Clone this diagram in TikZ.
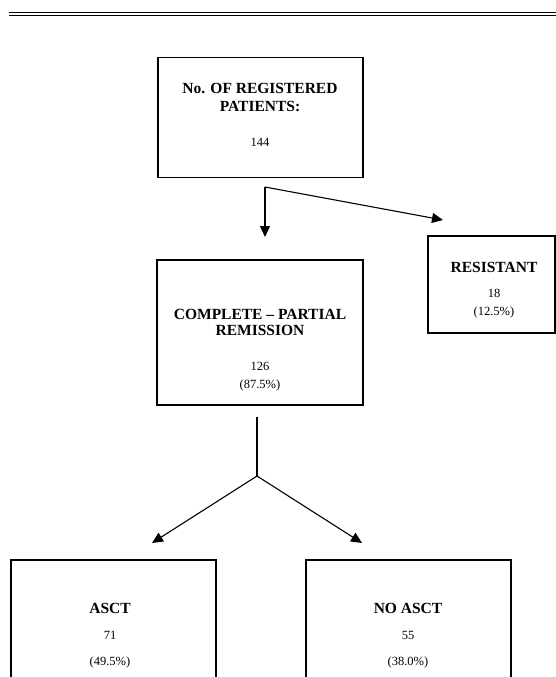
\documentclass[tikz,border=0pt]{standalone}
\usepackage{fontspec}
\setmainfont{Liberation Serif}
\usetikzlibrary{arrows.meta}
\begin{document}
\begin{tikzpicture}[x=1pt,y=-1pt,
  box/.style={draw,line width=1.8pt,rectangle,inner sep=0pt},
  txt/.style={anchor=base,font=\fontsize{12.5}{14}\selectfont,inner sep=0pt},
  btxt/.style={txt,font=\fontsize{15.5}{17}\selectfont\bfseries},
  conn/.style={line width=1.1pt},
  arr/.style={conn,-{Triangle[length=11pt,width=10pt]}}]
\useasboundingbox (0,0) rectangle (556,677);
\clip (0,0) rectangle (556,677);
% double rule
\coordinate (r1) at (9,12.5); \coordinate (r2) at (556,12.5);
\coordinate (r3) at (9,15); \coordinate (r4) at (556,15);
\draw[line width=1.6pt] (r1) -- (r2);
\draw[line width=0.8pt] (r3) -- (r4);
% boxes
\node[box,minimum width=205pt,minimum height=120pt] (top) at (260.5,117.5) {};
\node[box,minimum width=206pt,minimum height=145pt] (mid) at (260,332.5) {};
\node[box,minimum width=127pt,minimum height=97pt] (res) at (491.5,284.5) {};
\node[box,minimum width=205pt,minimum height=160pt] (asct) at (113.5,640) {};
\node[box,minimum width=205pt,minimum height=160pt] (noasct) at (408.5,640) {};
% texts
\node[btxt] (t1) at (260,93) {No. OF REGISTERED};
\node[btxt] (t2) at (260,111) {PATIENTS:};
\node[txt] (t3) at (260,146) {144};
\node[btxt] (m1) at (260,319) {COMPLETE -- PARTIAL};
\node[btxt] (m2) at (260,335) {REMISSION};
\node[txt] (m3) at (260,370) {126};
\node[txt] (m4) at (260,388) {(87.5\%)};
\node[btxt] (s1) at (494,272) {RESISTANT};
\node[txt] (s2) at (494,297) {18};
\node[txt] (s3) at (494,315) {(12.5\%)};
\node[btxt] (a1) at (110,613) {ASCT};
\node[txt] (a2) at (110,639) {71};
\node[txt] (a3) at (110,665) {(49.5\%)};
\node[btxt] (n1) at (408,613) {NO ASCT};
\node[txt] (n2) at (408,639) {55};
\node[txt] (n3) at (408,665) {(38.0\%)};
% connectors
\coordinate (sp) at (265,187);
\coordinate (sd) at (265,237);
\coordinate (sr) at (443,220);
\draw[arr] (sp) -- (sd);
\draw[arr] (sp) -- (sr);
\coordinate (v1) at (257,417);
\coordinate (v2) at (257,476);
\coordinate (la) at (152,543);
\coordinate (ra) at (362,543);
\draw[conn] (v1) -- (v2);
\draw[arr] (v2) -- (la);
\draw[arr] (v2) -- (ra);
\end{tikzpicture}
\end{document}
